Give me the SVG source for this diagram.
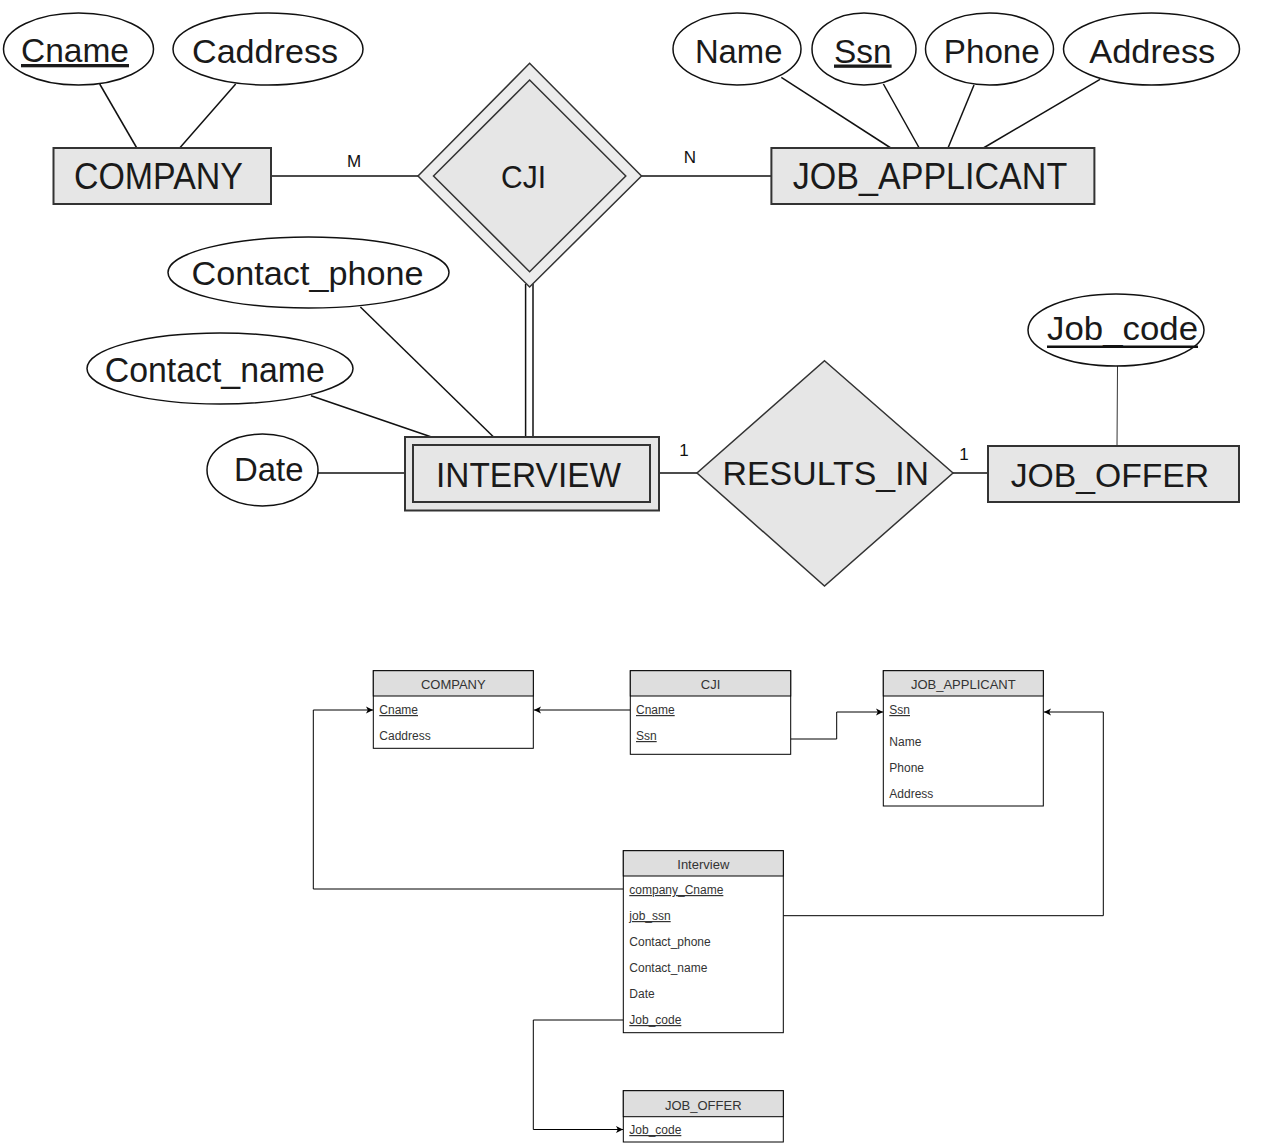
<svg xmlns="http://www.w3.org/2000/svg" width="1265" height="1146" viewBox="0 0 1265 1146">
<style>
.ent{fill:#e6e6e6;stroke:#333;stroke-width:2}
.att{fill:#fff;stroke:#111;stroke-width:1.5}
.ln{stroke:#111;stroke-width:1.5;fill:none}
.big{font-family:"Liberation Sans",Arial,sans-serif;fill:#1a1a1a;text-anchor:middle}
.card{font-family:"Liberation Sans",Arial,sans-serif;font-size:17px;fill:#111;text-anchor:middle}
.u{text-decoration:underline}
.tbl{fill:#fff;stroke:#000;stroke-width:1}
.hdr{fill:#dedede;stroke:#000;stroke-width:1}
.th{font-family:"Liberation Sans",Arial,sans-serif;font-size:13px;fill:#333;text-anchor:middle}
.td{font-family:"Liberation Sans",Arial,sans-serif;font-size:12px;fill:#333}
.con{stroke:#000;stroke-width:1;fill:none}
</style>
<defs>
<marker id="arr" markerWidth="8" markerHeight="8" refX="7" refY="4" orient="auto" markerUnits="userSpaceOnUse">
<path d="M0,0.5 L7,4 L0,7.5 L1.8,4 Z" fill="#000"/>
</marker>
</defs>

<!-- ER connectors -->
<g id="er-connectors">
<line class="ln" x1="99.7" y1="84" x2="136.8" y2="148"/>
<line class="ln" x1="235.7" y1="84" x2="179.7" y2="148"/>
<line class="ln" x1="271" y1="176" x2="418" y2="176"/>
<line class="ln" x1="641" y1="176" x2="771.4" y2="176"/>
<line class="ln" x1="781.3" y1="77.3" x2="890.8" y2="148"/>
<line class="ln" x1="883.4" y1="84" x2="919.2" y2="148"/>
<line class="ln" x1="974" y1="85" x2="948" y2="148"/>
<line class="ln" x1="1100" y1="79.3" x2="983.4" y2="148"/>
<line class="ln" x1="525.6" y1="284" x2="525.6" y2="437"/>
<line class="ln" x1="533" y1="284" x2="533" y2="437"/>
<line class="ln" x1="360.4" y1="307" x2="493.6" y2="437"/>
<line class="ln" x1="311" y1="395.7" x2="431.5" y2="437"/>
<line class="ln" x1="318" y1="473" x2="405" y2="473"/>
<line class="ln" x1="659" y1="473" x2="697" y2="473"/>
<line class="ln" x1="953" y1="473" x2="988" y2="473"/>
<line x1="1117.5" y1="366" x2="1117" y2="446" stroke="#333" stroke-width="1"/>
<text class="card" x="354" y="167">M</text>
<text class="card" x="690" y="163">N</text>
<text class="card" x="684" y="456">1</text>
<text class="card" x="964" y="460">1</text>
</g>

<g id="cname"><ellipse class="att" cx="78.5" cy="49" rx="75" ry="36"/><text class="big u" x="75" y="62" font-size="33" textLength="108" lengthAdjust="spacingAndGlyphs">Cname</text></g>
<g id="caddress"><ellipse class="att" cx="268" cy="49" rx="95" ry="36"/><text class="big" x="265" y="63" font-size="33" textLength="146" lengthAdjust="spacingAndGlyphs">Caddress</text></g>
<g id="company"><rect class="ent" x="53.5" y="148" width="217.5" height="56"/><text class="big" x="158.4" y="189.3" font-size="36" textLength="169" lengthAdjust="spacingAndGlyphs">COMPANY</text></g>
<g id="cji"><polygon points="529.6,63.3 641.5,176 529.6,287 418,176" fill="#ececec" stroke="#333" stroke-width="1.5"/><polygon points="529.6,80 625.8,176 529.6,271.7 433.5,176" fill="#e6e6e6" stroke="#333" stroke-width="1.5"/><text class="big" x="523.5" y="188.3" font-size="31" textLength="45" lengthAdjust="spacingAndGlyphs">CJI</text></g>
<g id="job_applicant"><rect class="ent" x="771.4" y="148" width="323" height="56"/><text class="big" x="930" y="189.3" font-size="36" textLength="274.5" lengthAdjust="spacingAndGlyphs">JOB_APPLICANT</text></g>
<g id="name"><ellipse class="att" cx="737" cy="49" rx="64" ry="36"/><text class="big" x="738.7" y="62.5" font-size="33" textLength="87.6" lengthAdjust="spacingAndGlyphs">Name</text></g>
<g id="ssn"><ellipse class="att" cx="864" cy="49" rx="52" ry="36"/><text class="big u" x="862.8" y="62.5" font-size="33" textLength="57.6" lengthAdjust="spacingAndGlyphs">Ssn</text></g>
<g id="phone"><ellipse class="att" cx="989.5" cy="49" rx="64" ry="36"/><text class="big" x="991.8" y="62.5" font-size="33" textLength="96" lengthAdjust="spacingAndGlyphs">Phone</text></g>
<g id="address"><ellipse class="att" cx="1151.5" cy="49" rx="88" ry="36"/><text class="big" x="1152.3" y="62.5" font-size="33" textLength="126" lengthAdjust="spacingAndGlyphs">Address</text></g>
<g id="contact_phone"><ellipse class="att" cx="308.5" cy="272.5" rx="140.5" ry="35.5"/><text class="big" x="307.6" y="285" font-size="34" textLength="232" lengthAdjust="spacingAndGlyphs">Contact_phone</text></g>
<g id="contact_name"><ellipse class="att" cx="220" cy="368.5" rx="133" ry="35.5"/><text class="big" x="214.8" y="381.7" font-size="35" textLength="220" lengthAdjust="spacingAndGlyphs">Contact_name</text></g>
<g id="date"><ellipse class="att" cx="262.5" cy="470" rx="55.5" ry="36"/><text class="big" x="268.8" y="480.7" font-size="34" textLength="69.5" lengthAdjust="spacingAndGlyphs">Date</text></g>
<g id="interview"><rect class="ent" x="405" y="437" width="254" height="73.5"/><rect x="413" y="445" width="237" height="57" fill="#e6e6e6" stroke="#333" stroke-width="2"/><text class="big" x="528.5" y="487.3" font-size="35" textLength="185" lengthAdjust="spacingAndGlyphs">INTERVIEW</text></g>
<g id="results_in"><polygon points="824.5,360.7 953,473 824.5,586 697,473" fill="#e6e6e6" stroke="#333" stroke-width="1.5"/><text class="big" x="825.8" y="485" font-size="33" textLength="206.5" lengthAdjust="spacingAndGlyphs">RESULTS_IN</text></g>
<g id="job_offer"><rect class="ent" x="988" y="446" width="251" height="56"/><text class="big" x="1109.9" y="486.7" font-size="33" textLength="198.5" lengthAdjust="spacingAndGlyphs">JOB_OFFER</text></g>
<g id="job_code"><ellipse class="att" cx="1116" cy="330" rx="88" ry="36"/><text class="big" x="1122.5" y="340" font-size="33" textLength="151" lengthAdjust="spacingAndGlyphs">Job_code</text><line x1="1047" y1="346.7" x2="1198" y2="346.7" stroke="#111" stroke-width="2.5"/></g>

<!-- relational schema connectors -->
<g id="schema-connectors">
<path class="con" d="M630.3,710 H534" marker-end="url(#arr)"/>
<path class="con" d="M790.7,739 H836.7 V712 H883" marker-end="url(#arr)"/>
<path class="con" d="M623.3,889 H313.3 V710 H373" marker-end="url(#arr)"/>
<path class="con" d="M783.3,915.7 H1103.3 V712 H1044" marker-end="url(#arr)"/>
<path class="con" d="M623.3,1020 H533.3 V1129.5 H623" marker-end="url(#arr)"/>
</g>

<g id="t_company">
<rect class="tbl" x="373.3" y="670.7" width="160" height="77.6"/>
<rect class="hdr" x="373.3" y="670.7" width="160" height="25.3"/>
<text class="th" x="453.3" y="689">COMPANY</text>
<text class="td u" x="379.3" y="714">Cname</text>
<text class="td" x="379.3" y="740">Caddress</text>
</g>
<g id="t_cji">
<rect class="tbl" x="630.3" y="670.7" width="160.4" height="83.6"/>
<rect class="hdr" x="630.3" y="670.7" width="160.4" height="25.3"/>
<text class="th" x="710.5" y="689">CJI</text>
<text class="td u" x="636" y="714">Cname</text>
<text class="td u" x="636" y="740">Ssn</text>
</g>
<g id="t_job_applicant">
<rect class="tbl" x="883.3" y="670.7" width="160" height="135.3"/>
<rect class="hdr" x="883.3" y="670.7" width="160" height="25.3"/>
<text class="th" x="963.3" y="689">JOB_APPLICANT</text>
<text class="td u" x="889.3" y="714">Ssn</text>
<text class="td" x="889.3" y="745.5">Name</text>
<text class="td" x="889.3" y="771.5">Phone</text>
<text class="td" x="889.3" y="797.5">Address</text>
</g>
<g id="t_interview">
<rect class="tbl" x="623.3" y="850.7" width="160" height="182"/>
<rect class="hdr" x="623.3" y="850.7" width="160" height="25.3"/>
<text class="th" x="703.3" y="869">Interview</text>
<text class="td u" x="629.3" y="894">company_Cname</text>
<text class="td u" x="629.3" y="920">job_ssn</text>
<text class="td" x="629.3" y="946">Contact_phone</text>
<text class="td" x="629.3" y="972">Contact_name</text>
<text class="td" x="629.3" y="998">Date</text>
<text class="td u" x="629.3" y="1024">Job_code</text>
</g>
<g id="t_job_offer">
<rect class="tbl" x="623.3" y="1090.7" width="160" height="51.3"/>
<rect class="hdr" x="623.3" y="1090.7" width="160" height="26"/>
<text class="th" x="703.3" y="1109.5">JOB_OFFER</text>
<text class="td u" x="629.3" y="1134">Job_code</text>
</g>
</svg>
